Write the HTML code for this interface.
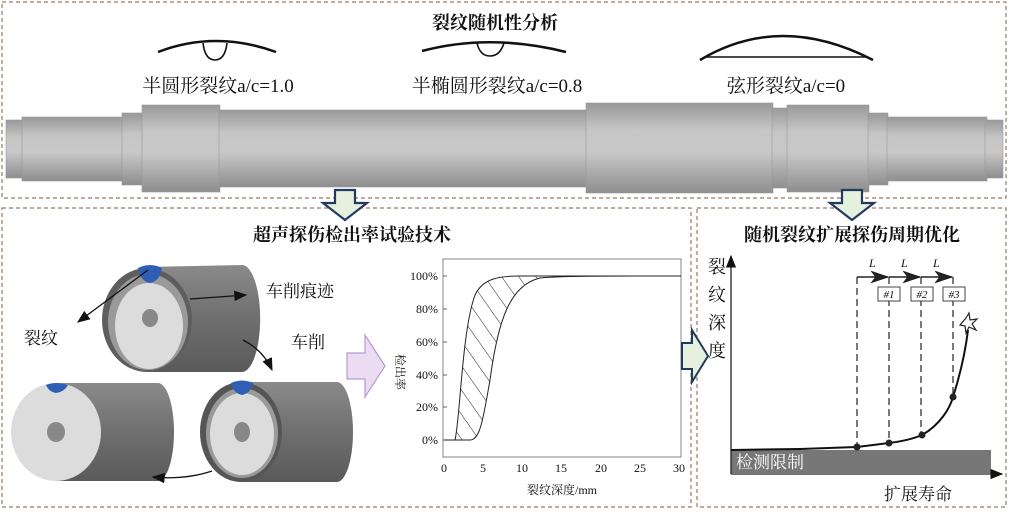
<!DOCTYPE html>
<html><head><meta charset="utf-8"><style>
body{margin:0;background:#fff}
svg{display:block}
text{font-family:"Liberation Serif","Noto Serif CJK SC",serif;fill:#111}
</style></head><body>
<svg width="1009" height="519" viewBox="0 0 1009 519" xmlns="http://www.w3.org/2000/svg">
<defs>
<linearGradient id="sh" x1="0" y1="0" x2="0" y2="1">
<stop offset="0" stop-color="#999"/><stop offset="0.3" stop-color="#c6c6c6"/><stop offset="0.55" stop-color="#c8c8c8"/><stop offset="1" stop-color="#8e8e8e"/>
</linearGradient>
<linearGradient id="cy" x1="0" y1="0" x2="0" y2="1">
<stop offset="0" stop-color="#8a8a8a"/><stop offset="0.5" stop-color="#6f6f6f"/><stop offset="1" stop-color="#5a5a5a"/>
</linearGradient>
<marker id="ah" markerWidth="10" markerHeight="8" refX="9" refY="4" orient="auto"><path d="M0,0 L10,4 L0,8 z" fill="#111"/></marker>
<marker id="ah2" markerWidth="12" markerHeight="8" refX="11" refY="4" orient="auto"><path d="M0,0 L12,4 L0,8 L3,4 z" fill="#222"/></marker>
<pattern id="hatch" width="14" height="14" patternUnits="userSpaceOnUse" patternTransform="rotate(-35)"><line x1="0" y1="0" x2="0" y2="14" stroke="#222" stroke-width="1"/></pattern>
<clipPath id="band"><path d="M455,440 C460,420 462,330 475,295 C483,278 500,276 520,276 L560,276 L540,278 C510,285 498,320 490,380 C483,420 480,440 470,440 Z"/></clipPath>
</defs>

<g fill="none" stroke="#9a7a62" stroke-width="1.2" stroke-dasharray="4,3">
<rect x="2" y="2" width="1004" height="196"/>
<rect x="2" y="208" width="689" height="299"/>
<rect x="697" y="208" width="309" height="299"/>
</g>

<text x="495" y="29" font-size="18" text-anchor="middle" font-weight="bold">裂纹随机性分析</text>

<g fill="none" stroke="#111" stroke-width="2.5">
<path d="M158,52 Q215,30 276,52"/>
<path d="M422,51 Q490,33 566,52"/>
<path d="M700,60 Q780,12 873,60"/>
</g>
<g fill="none" stroke="#111" stroke-width="1.6">
<path d="M203,43 Q205,60 215,60 Q225,60 227,43"/>
<path d="M477,43 Q480,56 490,56 Q500,56 504,43"/>
<line x1="705" y1="57" x2="866" y2="57"/>
</g>
<text x="218" y="92" font-size="19" text-anchor="middle">半圆形裂纹a/c=1.0</text>
<text x="497" y="92" font-size="19" text-anchor="middle">半椭圆形裂纹a/c=0.8</text>
<text x="786" y="92" font-size="19" text-anchor="middle">弦形裂纹a/c=0</text>

<g fill="url(#sh)" stroke="#999" stroke-width="0.6">
<rect x="6" y="120" width="20" height="58"/>
<rect x="22" y="117" width="102" height="64"/>
<rect x="122" y="113" width="22" height="72"/>
<rect x="142" y="105" width="78" height="87"/>
<rect x="219" y="110" width="368" height="77"/>
<rect x="586" y="103" width="187" height="90"/>
<rect x="772" y="108" width="16" height="80"/>
<rect x="787" y="105" width="82" height="87"/>
<rect x="868" y="113" width="20" height="72"/>
<rect x="887" y="117" width="100" height="64"/>
<rect x="985" y="120" width="18" height="58"/>
</g>

<g stroke="#233a5e" stroke-width="2.2" fill="#e6f0df">
<path d="M335,190 L355,190 L355,203 L367,203 L345,220 L323,203 L335,203 z"/>
<path d="M842,190 L862,190 L862,203 L874,203 L852,220 L830,203 L842,203 z"/>
</g>

<text x="352" y="241" font-size="18" text-anchor="middle" font-weight="bold">超声探伤检出率试验技术</text>
<text x="852" y="241" font-size="18" text-anchor="middle" font-weight="bold">随机裂纹扩展探伤周期优化</text>

<g>
<path d="M147,267 L242,265 A18,53 0 0 1 242,372 L147,372 z" fill="url(#cy)"/>
<ellipse cx="147" cy="320" rx="45" ry="52" fill="#5e5e5e"/>
<ellipse cx="148" cy="322" rx="40" ry="48" fill="#9a9a9a"/>
<ellipse cx="149" cy="326" rx="34" ry="43" fill="#dcdcdc"/>
<ellipse cx="150" cy="318" rx="8" ry="9" fill="#888"/>
<path d="M138,268 Q150,262 162,268 Q160,281 150,283 Q140,281 138,268 z" fill="#2f5fb5"/>

<path d="M56,383 L158,383 A16,49 0 0 1 158,481 L56,481 z" fill="url(#cy)"/>
<ellipse cx="56" cy="432" rx="45" ry="49" fill="#dcdcdc"/>
<ellipse cx="56" cy="432" rx="9" ry="10" fill="#888"/>
<path d="M46,385 Q56,381 68,385 Q64,392 56,393 Q49,392 46,385 z" fill="#2f5fb5"/>

<path d="M241,382 L337,382 A16,50 0 0 1 337,482 L241,482 z" fill="url(#cy)"/>
<ellipse cx="241" cy="432" rx="41" ry="50" fill="#555"/>
<ellipse cx="242" cy="433" rx="36" ry="45" fill="#9a9a9a"/>
<ellipse cx="242" cy="434" rx="32" ry="41" fill="#dcdcdc"/>
<ellipse cx="242" cy="432" rx="8" ry="10" fill="#888"/>
<path d="M231,383 Q242,378 253,383 Q251,393 242,395 Q233,393 231,383 z" fill="#2f5fb5"/>
</g>
<g stroke="#111" stroke-width="1.3" fill="none">
<line x1="148" y1="270" x2="78" y2="322" marker-end="url(#ah)"/>
<line x1="190" y1="299" x2="246" y2="295" marker-end="url(#ah)"/>
<path d="M243,340 Q263,350 272,370" marker-end="url(#ah)"/>
<path d="M212,471 Q185,480 153,477" marker-end="url(#ah)"/>
</g>
<text x="266" y="297" font-size="17">车削痕迹</text>
<text x="24" y="344" font-size="17">裂纹</text>
<text x="291" y="348" font-size="17">车削</text>

<path d="M347,353 L365,353 L365,335 L385,366 L365,397 L365,379 L347,379 z" fill="#ecdcf2" stroke="#b59ad0" stroke-width="1.2"/>

<rect x="443" y="259" width="238" height="198" fill="#fff" stroke="#666" stroke-width="0.8"/>
<g stroke="#444" stroke-width="0.8">
<line x1="443" y1="276" x2="447" y2="276"/><line x1="443" y1="309" x2="447" y2="309"/><line x1="443" y1="342" x2="447" y2="342"/><line x1="443" y1="375" x2="447" y2="375"/><line x1="443" y1="407" x2="447" y2="407"/><line x1="443" y1="440" x2="447" y2="440"/>
</g>
<g font-size="12" text-anchor="end">
<text x="438" y="280">100%</text><text x="438" y="313">80%</text><text x="438" y="346">60%</text><text x="438" y="379">40%</text><text x="438" y="411">20%</text><text x="438" y="444">0%</text>
</g>
<g font-size="12" text-anchor="middle">
<text x="444" y="472">0</text><text x="483" y="472">5</text><text x="522" y="472">10</text><text x="561" y="472">15</text><text x="601" y="472">20</text><text x="640" y="472">25</text><text x="679" y="472">30</text>
</g>
<text x="562" y="494" font-size="12" text-anchor="middle">裂纹深度/mm</text>
<text transform="translate(396,372) rotate(90)" font-size="12" text-anchor="middle">检出率</text>
<rect x="440" y="270" width="130" height="175" fill="url(#hatch)" clip-path="url(#band)"/>
<path d="M444,440 L455,440 C460,420 462,330 475,295 C483,278 500,276 520,276 L681,276" fill="none" stroke="#222" stroke-width="1"/>
<path d="M444,440 L470,440 C480,440 483,420 490,380 C498,320 510,285 540,278 C560,276 600,276 681,276" fill="none" stroke="#222" stroke-width="1"/>

<path d="M682,343 L692,343 L692,330 L708,356 L692,382 L692,369 L682,369 z" fill="#e6f0df" stroke="#233a5e" stroke-width="2"/>

<rect x="731" y="450" width="260" height="23" fill="#777"/>
<text x="736" y="468" font-size="17" style="fill:#fff">检测限制</text>
<g stroke="#222" stroke-width="1.3" fill="none">
<line x1="731" y1="474" x2="731" y2="256" marker-end="url(#ah)"/>
<line x1="731" y1="474" x2="1002" y2="474" marker-end="url(#ah)"/>
</g>
<g font-size="18" text-anchor="middle">
<text x="717" y="273">裂</text><text x="717" y="301">纹</text><text x="717" y="329">深</text><text x="717" y="357">度</text>
</g>
<text x="918" y="500" font-size="17" text-anchor="middle">扩展寿命</text>
<g stroke="#222" stroke-width="1.2" stroke-dasharray="7,4" fill="none">
<line x1="857" y1="277" x2="857" y2="447"/><line x1="889" y1="277" x2="889" y2="443"/><line x1="921" y1="277" x2="921" y2="435"/><line x1="953" y1="277" x2="953" y2="397"/>
</g>
<g stroke="#222" stroke-width="1.6" fill="none">
<line x1="857" y1="277" x2="888" y2="277" marker-end="url(#ah2)"/>
<line x1="889" y1="277" x2="920" y2="277" marker-end="url(#ah2)"/>
<line x1="921" y1="277" x2="952" y2="277" marker-end="url(#ah2)"/>
</g>
<g font-size="12" font-style="italic" style="font-family:'Liberation Sans',sans-serif">
<text x="869" y="267">L</text><text x="901" y="267">L</text><text x="933" y="267">L</text>
</g>
<g fill="#fff" stroke="#444" stroke-width="1">
<rect x="878" y="287" width="22" height="14"/><rect x="911" y="287" width="22" height="14"/><rect x="943" y="287" width="22" height="14"/>
</g>
<g font-size="11" font-style="italic" text-anchor="middle" style="font-family:'Liberation Sans',sans-serif">
<text x="889" y="298">#1</text><text x="922" y="298">#2</text><text x="954" y="298">#3</text>
</g>
<path d="M731,450 L800,449 L857,447 L889,443 C905,441 915,438 922,435 C940,425 950,408 953,397 C960,375 965,355 968,330" fill="none" stroke="#111" stroke-width="2"/>
<g fill="#222"><circle cx="857" cy="447" r="3.5"/><circle cx="889" cy="443" r="3.5"/><circle cx="922" cy="435" r="3.5"/><circle cx="953" cy="397" r="3.5"/></g>
<path d="M966,318 L969,313 L970,320 L977,319 L972,324 L976,330 L969,327 L966,333 L965,326 L960,325 z" fill="#fff" stroke="#222" stroke-width="1.2"/>
</svg>
</body></html>
